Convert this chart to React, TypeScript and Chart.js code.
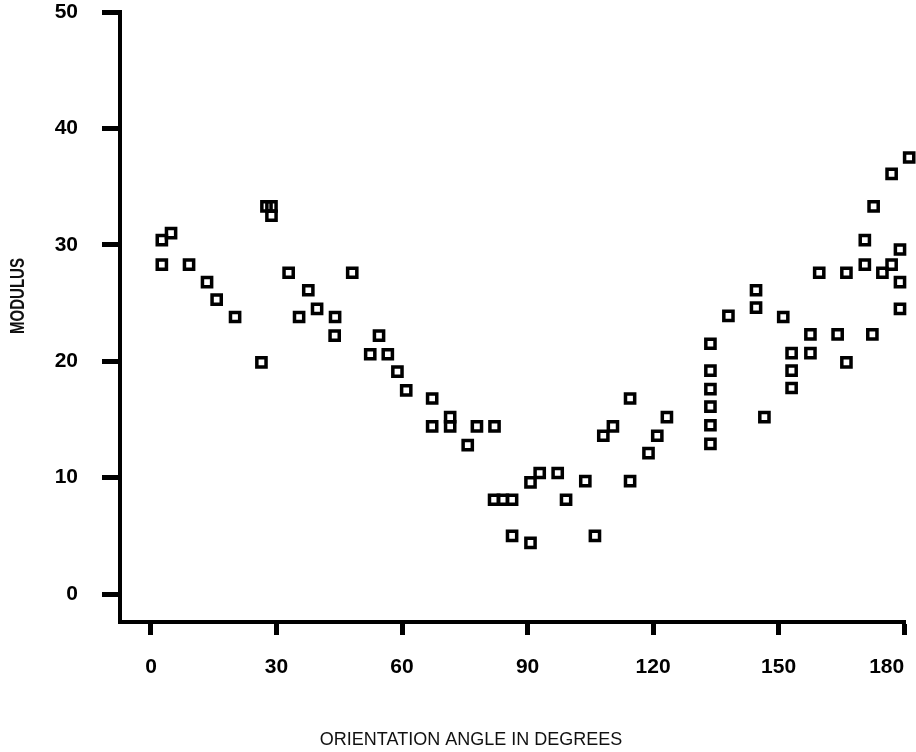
import React, { useEffect, useRef } from 'react';
import { Chart, registerables } from 'chart.js';

Chart.register(...registerables);

// ---- data ----
const angles: number[] = [
  2.6, 4.8, 2.6, 9.1, 13.4, 15.7, 20.1, 26.4, 27.6, 28.8,
  28.8, 32.9, 35.4, 37.6, 39.7, 44.0, 43.9, 48.1, 52.4, 54.5,
  56.6, 58.9, 61.0, 67.2, 67.2, 71.5, 71.5, 75.7, 77.9, 82.1,
  82.0, 84.1, 86.3, 86.3, 90.7, 90.7, 92.9, 97.2, 99.2, 103.8,
  106.1, 108.1, 110.4, 114.5, 114.5, 118.9, 121.0, 123.3, 133.7, 133.7,
  133.7, 133.7, 133.7, 133.7, 138.0, 144.6, 144.6, 146.6, 151.1, 153.1,
  153.1, 153.1, 157.6, 157.6, 159.7, 164.1, 166.2, 166.2, 170.6, 170.6,
  172.7, 172.4, 174.8, 177.0, 177.0, 179.0, 179.0, 179.0, 181.2,
];
const moduli: number[] = [
  30.4, 31.0, 28.3, 28.3, 26.8, 25.3, 23.8, 19.9, 33.3, 33.3,
  32.5, 27.6, 23.8, 26.1, 24.5, 23.8, 22.2, 27.6, 20.6, 22.2,
  20.6, 19.1, 17.5, 16.8, 14.4, 15.2, 14.4, 12.8, 14.4, 14.4,
  8.1, 8.1, 8.1, 5.0, 4.4, 9.6, 10.4, 10.4, 8.1, 9.7,
  5.0, 13.6, 14.4, 9.7, 16.8, 12.1, 13.6, 15.2, 12.9, 14.5,
  16.1, 17.6, 19.2, 21.5, 23.9, 26.1, 24.6, 15.2, 23.8, 20.7,
  19.2, 17.7, 22.3, 20.7, 27.6, 22.3, 19.9, 27.6, 28.3, 30.4,
  33.3, 22.3, 27.6, 28.3, 36.1, 29.6, 26.8, 24.5, 37.5,
];
const xTickValues: number[] = [0, 30, 60, 90, 120, 150, 180];
const yTickValues: number[] = [0, 10, 20, 30, 40, 50];
const X_MIN = -7.4;
const X_MAX = 180.2;
const Y_MIN = -2.4;
const Y_MAX = 50;
const xTitle = 'ORIENTATION ANGLE IN DEGREES';
const yTitle = 'MODULUS';

const tickFont = { family: '"Liberation Sans", Arial, Helvetica, sans-serif', size: 21, weight: 'bold' as const };

const titlesPlugin = {
  id: 'axisTitles',
  afterDraw(chart: any) {
    const ctx: CanvasRenderingContext2D = chart.ctx;
    ctx.save();
    ctx.fillStyle = '#111';
    ctx.textAlign = 'center';
    ctx.textBaseline = 'middle';
    ctx.font = '18px "Liberation Sans", Arial, Helvetica, sans-serif';
    ctx.fillText(xTitle, 471, 740);
    ctx.restore();

    ctx.save();
    ctx.fillStyle = '#111';
    ctx.textAlign = 'center';
    ctx.textBaseline = 'middle';
    ctx.font = 'bold 21px "Liberation Sans", Arial, Helvetica, sans-serif';
    const w = ctx.measureText(yTitle).width;
    ctx.translate(18, 296);
    ctx.rotate(-Math.PI / 2);
    ctx.scale(76 / w, 1);
    ctx.fillText(yTitle, 0, 0);
    ctx.restore();
  },
};

export default function App() {
  const canvasRef = useRef<HTMLCanvasElement | null>(null);

  useEffect(() => {
    const canvas = canvasRef.current;
    if (!canvas) return;
    const points = angles.map((a, i) => ({ x: a, y: moduli[i] }));
    const chart = new Chart(canvas, {
      type: 'scatter',
      data: {
        datasets: [
          {
            data: points,
            pointStyle: 'rect',
            pointRadius: 6.5,
            pointBorderWidth: 3.5,
            borderColor: '#000',
            backgroundColor: 'rgba(0,0,0,0)',
            clip: false,
          } as any,
        ],
      },
      options: {
        animation: false,
        responsive: false,
        devicePixelRatio: 1,
        layout: { padding: { left: 0, top: 12, right: 11, bottom: 0 } },
        plugins: {
          legend: { display: false },
          tooltip: { enabled: false },
          title: { display: false },
        },
        scales: {
          x: {
            type: 'linear',
            position: 'bottom',
            min: X_MIN,
            max: X_MAX,
            afterBuildTicks: (s: any) => {
              s.ticks = [X_MIN, ...xTickValues].map((v) => ({ value: v }));
            },
            afterFit: (s: any) => {
              s.height = 130;
              s.paddingLeft = 0;
              s.paddingRight = 0;
            },
            grid: {
              drawOnChartArea: false,
              drawTicks: true,
              tickLength: 13,
              tickWidth: 5,
              tickColor: (c: any) => (c.tick && c.tick.value < 0 ? 'rgba(0,0,0,0)' : '#000'),
            },
            border: { display: true, color: '#000', width: 4 },
            ticks: {
              autoSkip: false,
              maxRotation: 0,
              minRotation: 0,
              align: 'inner',
              padding: 20,
              color: '#000',
              font: tickFont,
              callback: (v: any) => (Number(v) < 0 ? '' : String(v)),
            },
          },
          y: {
            type: 'linear',
            position: 'left',
            min: Y_MIN,
            max: Y_MAX,
            afterBuildTicks: (s: any) => {
              s.ticks = yTickValues.map((v) => ({ value: v }));
            },
            afterFit: (s: any) => {
              s.width = 120;
              s.paddingTop = 0;
              s.paddingBottom = 0;
            },
            grid: {
              drawOnChartArea: false,
              drawTicks: true,
              tickLength: 18,
              tickWidth: 5,
              tickColor: '#000',
            },
            border: { display: true, color: '#000', width: 4 },
            ticks: {
              autoSkip: false,
              padding: 24,
              color: '#000',
              font: tickFont,
              callback: (v: any) => String(v),
            },
          },
        },
      } as any,
      plugins: [titlesPlugin],
    });
    return () => chart.destroy();
  }, []);

  return (
    <div style={{ position: 'fixed', left: 0, top: 0, width: 916, height: 752, background: '#fff' }}>
      <canvas ref={canvasRef} width={916} height={752} style={{ display: 'block', width: 916, height: 752 }} />
    </div>
  );
}
